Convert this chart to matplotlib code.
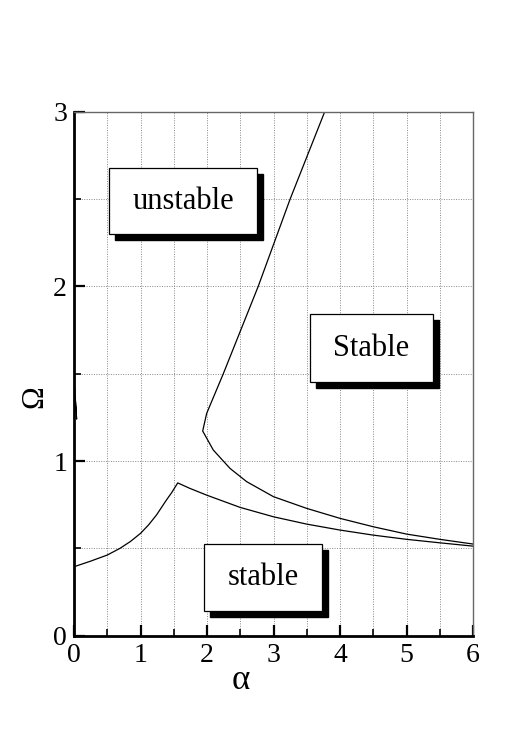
import matplotlib
matplotlib.use("Agg")
import matplotlib.pyplot as plt
from matplotlib.patches import Rectangle
import matplotlib.transforms as mtransforms

plt.rcParams['font.family'] = ['Liberation Serif', 'DejaVu Serif']

# Lower curve (stability boundary, lower branch)
lower_alpha = [0.0, 0.25, 0.5, 0.69, 0.85, 1.0, 1.12, 1.24, 1.39, 1.47, 1.56, 1.74, 1.995, 2.496, 3.0, 3.5, 4.0, 4.5, 5.0, 5.5, 6.0]
lower_omega = [0.395, 0.427, 0.462, 0.50, 0.54, 0.586, 0.634, 0.691, 0.777, 0.82, 0.875, 0.844, 0.805, 0.735, 0.681, 0.639, 0.605, 0.576, 0.552, 0.532, 0.513]

# Upper curve (from the top, down to the cusp, then to the right)
upper_alpha = [3.77, 3.25, 2.77, 2.245, 1.995, 1.935, 2.095, 2.346, 2.597, 3.0, 3.5, 4.0, 4.5, 5.0, 5.5, 6.0]
upper_omega = [3.0, 2.5, 2.0, 1.5, 1.273, 1.172, 1.063, 0.958, 0.882, 0.796, 0.729, 0.672, 0.624, 0.582, 0.552, 0.525]

# Small sliver near alpha = 0
sliver_alpha = [0.01, 0.04, 0.018]
sliver_omega = [1.425, 1.24, 1.37]

fig = plt.figure(figsize=(5.23, 7.40), dpi=100)
ax = fig.add_axes([0.1415, 0.1409, 0.9044 - 0.1415, 0.849 - 0.1409])

ax.plot(lower_alpha, lower_omega, color='black', lw=0.9)
ax.plot(upper_alpha, upper_omega, color='black', lw=0.9)
ax.plot(sliver_alpha, sliver_omega, color='black', lw=0.8, clip_on=False, zorder=10)

ax.set_xlim(0, 6)
ax.set_ylim(0, 3)
ax.set_xticks([0, 1, 2, 3, 4, 5, 6])
ax.set_yticks([0, 1, 2, 3])
ax.set_xticks([0.5, 1.5, 2.5, 3.5, 4.5, 5.5], minor=True)
ax.set_yticks([0.5, 1.5, 2.5], minor=True)
ax.grid(True, which='both', color='#888888', linestyle=(0, (1, 1.5)), linewidth=0.7)
ax.tick_params(which='major', direction='in', length=8, width=1.6, labelsize=20, pad=5)
ax.tick_params(which='minor', direction='in', length=5, width=1.2)
ax.tick_params(top=False, right=False, which='both')

for s in ['left', 'bottom']:
    ax.spines[s].set_linewidth(2.0)
for s in ['top', 'right']:
    ax.spines[s].set_linewidth(1.0)
    ax.spines[s].set_color('#666666')

ax.set_xlabel('α', fontsize=25)
ax.xaxis.set_label_coords(0.419, -0.086)
ax.xaxis.label.set_va('center')
ax.set_ylabel('Ω', fontsize=22, rotation=90)
ax.yaxis.set_label_coords(-0.098, 0.457)
ax.yaxis.label.set_va('center')

# Shadowed label boxes: (x0, y0, x1, y1) in data coords, text
boxes = [
    ((0.532, 2.298, 2.747, 2.679), 'unstable'),
    ((3.549, 1.454, 5.394, 1.840), 'Stable'),
    ((1.955, 0.143, 3.725, 0.525), 'stable'),
]
shadow_tr = mtransforms.offset_copy(ax.transData, fig=fig, x=6, y=-6, units='dots')
for (x0, y0, x1, y1), label in boxes:
    ax.add_patch(Rectangle((x0, y0), x1 - x0, y1 - y0, transform=shadow_tr,
                           facecolor='black', edgecolor='black', zorder=5))
    ax.add_patch(Rectangle((x0, y0), x1 - x0, y1 - y0, facecolor='white',
                           edgecolor='black', lw=0.9, zorder=6))
    ax.text((x0 + x1) / 2, (y0 + y1) / 2, label, ha='center', va='center',
            fontsize=22, zorder=7)

fig.savefig('out.png', dpi=100)
